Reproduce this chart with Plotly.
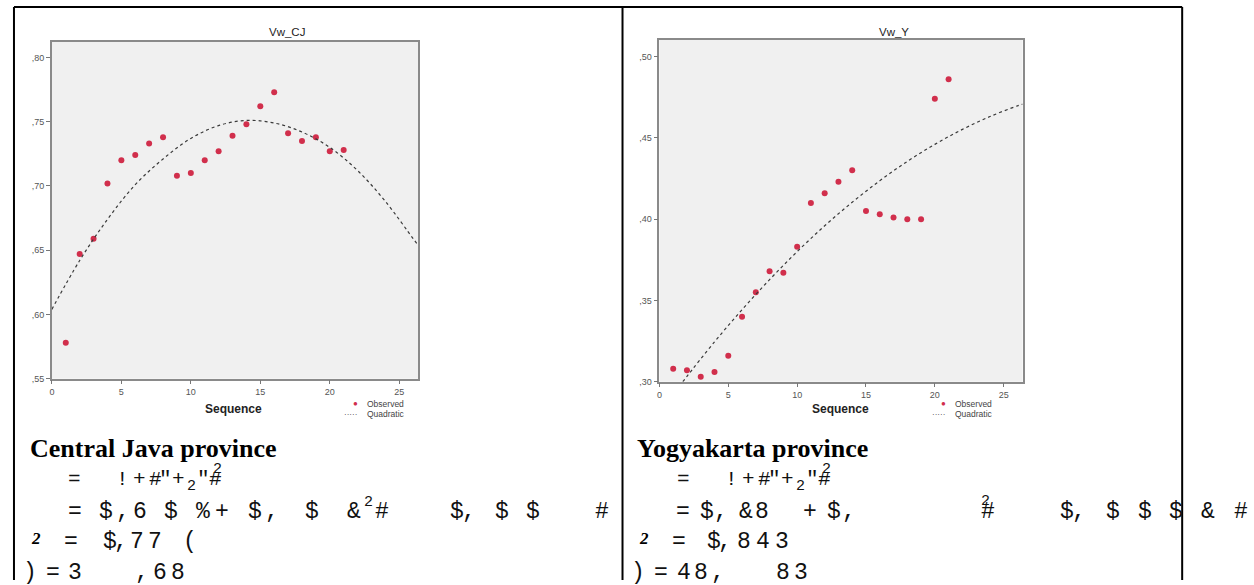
import plotly.graph_objects as go

W, H = 1254, 585

# ---------------- data ----------------
seq = list(range(1, 22))
vw_cj = [0.578, 0.647, 0.659, 0.702, 0.720, 0.724, 0.733, 0.738, 0.708, 0.710,
         0.720, 0.727, 0.739, 0.748, 0.762, 0.773, 0.741, 0.735, 0.738, 0.727, 0.728]
vw_y = [0.308, 0.307, 0.303, 0.306, 0.316, 0.340, 0.355, 0.368, 0.367, 0.383,
        0.410, 0.416, 0.423, 0.430, 0.405, 0.403, 0.401, 0.400, 0.400, 0.474, 0.486]

# quadratic fit curves
quad_cj_x = [0, 2, 4, 6, 8, 10, 12, 14, 16, 18, 20, 22, 24, 26, 26.35]
quad_cj_y = [0.604, 0.642, 0.674, 0.701, 0.721, 0.737, 0.747, 0.751, 0.749,
             0.742, 0.730, 0.712, 0.688, 0.659, 0.654]
quad_y_x = [1.7, 2, 4, 6, 8, 10, 12, 14, 16, 18, 20, 22, 24, 26, 26.37]
quad_y_y = [0.300, 0.3033, 0.3245, 0.3443, 0.3628, 0.380, 0.3959, 0.4104, 0.4236,
            0.4355, 0.446, 0.4552, 0.4631, 0.4697, 0.4707]

x_ticks = [0, 5, 10, 15, 20, 25]
x_tick_text = ["0", "5", "10", "15", "20", "25"]
cj_ticks = [0.55, 0.60, 0.65, 0.70, 0.75, 0.80]
cj_tick_text = [",55", ",60", ",65", ",70", ",75", ",80"]
y_ticks = [0.30, 0.35, 0.40, 0.45, 0.50]
y_tick_text = [",30", ",35", ",40", ",45", ",50"]

titles = ["Vw_CJ", "Vw_Y"]
legend_names = ["Observed", "Quadratic"]
provinces = ["Central Java province", "Yogyakarta province"]

# ---------------- helpers ----------------
def px(x):
    return x / W


def py(y):
    return 1 - y / H


RED = "#d12f4c"
CURVE = "#3a3a3a"

fig = go.Figure()

fig.add_trace(go.Scatter(x=seq, y=vw_cj, mode="markers", name=legend_names[0],
                         marker=dict(color=RED, size=6), xaxis="x", yaxis="y",
                         showlegend=False))
fig.add_trace(go.Scatter(x=quad_cj_x, y=quad_cj_y, mode="lines", name=legend_names[1],
                         line=dict(color=CURVE, width=1.2, dash="dot", shape="spline"),
                         xaxis="x", yaxis="y", showlegend=False))
fig.add_trace(go.Scatter(x=seq, y=vw_y, mode="markers", name=legend_names[0],
                         marker=dict(color=RED, size=6), xaxis="x2", yaxis="y2",
                         showlegend=False))
fig.add_trace(go.Scatter(x=quad_y_x, y=quad_y_y, mode="lines", name=legend_names[1],
                         line=dict(color=CURVE, width=1.2, dash="dot", shape="spline"),
                         xaxis="x2", yaxis="y2", showlegend=False))

tickfont = dict(family="Arial, Liberation Sans, sans-serif", size=9, color="#555")
axis_common = dict(showgrid=False, zeroline=False, showline=True, mirror=True,
                   linecolor="#8a8a8a", linewidth=1.5, ticks="outside", ticklen=4,
                   tickcolor="#777", tickfont=tickfont, fixedrange=True)

fig.update_layout(
    width=W, height=H, autosize=False,
    margin=dict(l=0, r=0, t=0, b=0),
    paper_bgcolor="white", plot_bgcolor="#f0f0f0",
    xaxis=dict(domain=[px(49), px(416)], range=[0, 26.35], anchor="y",
               tickvals=x_ticks, ticktext=x_tick_text, **axis_common),
    yaxis=dict(domain=[py(382), py(42)], range=[0.55, 0.8123], anchor="x",
               tickvals=cj_ticks, ticktext=cj_tick_text, **axis_common),
    xaxis2=dict(domain=[px(658), px(1022)], range=[0, 26.37], anchor="y2",
                tickvals=x_ticks, ticktext=x_tick_text, **axis_common),
    yaxis2=dict(domain=[py(385), py(40)], range=[0.30, 0.5104], anchor="x2",
                tickvals=y_ticks, ticktext=y_tick_text, **axis_common),
    showlegend=False,
)

# table borders
border = dict(color="black", width=2)
fig.add_shape(type="line", xref="paper", yref="paper", x0=px(11), x1=px(1182), y0=py(7), y1=py(7), line=border)
for bx in (11, 621, 1182):
    fig.add_shape(type="line", xref="paper", yref="paper", x0=px(bx), x1=px(bx), y0=py(7), y1=py(585), line=border)

ann = []


def text(x, y, s, size, family="Arial, Liberation Sans, sans-serif", color="#222",
         xanchor="center", bold=False):
    ann.append(dict(x=px(x), y=py(y), xref="paper", yref="paper", text=("<b>%s</b>" % s) if bold else s,
                    showarrow=False, xanchor=xanchor, yanchor="middle",
                    font=dict(size=size, family=family, color=color)))


# chart titles and axis titles
text(285, 32, titles[0], 11.5)
text(893, 32, titles[1], 11.5)
text(231, 413, "Sequence", 12, bold=True)
text(840, 413, "Sequence", 12, bold=True)

# legends
for (mx, tx) in ((353, 363), (943, 952)):
    text(mx, 407, "●", 8, color=RED)
    text(tx, 407, legend_names[0], 8.5, color="#444", xanchor="left")
    text(tx - 6, 418, "·····", 8, color="#333", xanchor="right")
    text(tx, 418, legend_names[1], 8.5, color="#444", xanchor="left")

# ---------------- text under the charts ----------------
SERIF = "Liberation Serif, Times New Roman, serif"
MONO = "Liberation Mono, Courier New, monospace"
INK = "#111"
text(25, 452, provinces[0], 26, family=SERIF, color="black", xanchor="left", bold=True)
text(634, 452, provinces[1], 26, family=SERIF, color="black", xanchor="left", bold=True)

MS = 23
SS = 15
Y2, Y3, Y4, Y5 = 484, 516, 547, 578


def glyphs(chars, xs, y, size=MS):
    for c, x in zip(chars, xs):
        text(x, y, c, size, family=MONO, color=INK)


# line 2 (same in both columns)
for off in (0, 610):
    glyphs(["=", "!", "+", "#", '"', "+", '"', "#"],
           [72 + off, 120 + off, 137 + off, 153 + off, 163 + off, 176 + off, 201 + off, 213 + off], Y2, 21)
    glyphs(["2"], [189 + off], Y2 + 7, SS)
    glyphs(["2"], [215 + off], Y2 - 10, SS)

# line 3
glyphs(list("=$,6$%+$,$&#$,$$#"),
       [72, 103, 120, 137, 168, 200, 220, 253, 270, 310, 352, 380, 455, 467, 500, 531, 600], Y3)
glyphs(["2"], [366], Y3 - 9, SS)
glyphs(list("=$,&8+$,#$,$$$&#"),
       [682, 706, 720, 745, 761, 809, 833, 848, 987, 1067, 1079, 1113, 1145, 1176, 1208, 1241], Y3)
glyphs(["2"], [985], Y3 - 10, SS)

# line 4
glyphs(list("=$,77("), [68, 107, 118, 134, 152, 187], Y4)
glyphs(list("=$,843"), [678, 713, 724, 743, 762, 781], Y4)
text(33, Y4 - 4, "<i>2</i>", 17, family=SERIF, color="black", bold=True)
text(643, Y4 - 4, "<i>2</i>", 17, family=SERIF, color="black", bold=True)

# line 5
glyphs(list(")=3,68"), [27, 50, 72, 139, 157, 175], Y5)
glyphs(list(")=48,83"), [637, 660, 683, 700, 717, 782, 800], Y5)

fig.update_layout(annotations=ann)

fig.write_html("out.html")
